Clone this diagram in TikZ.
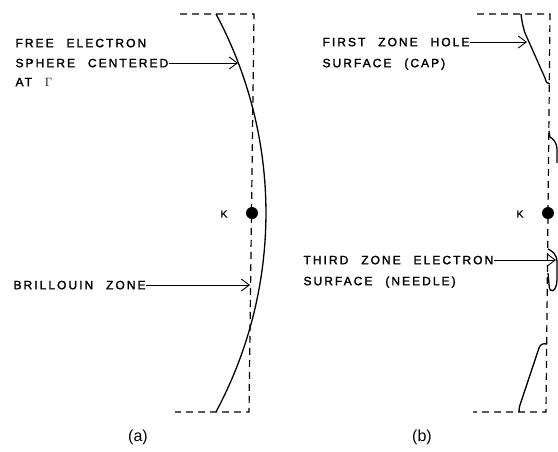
\documentclass[tikz,border=0pt]{standalone}
\usepackage{fontspec}
\setmainfont{Liberation Sans}
\newfontfamily\spacedfont[LetterSpace=17,WordSpace=2.4,FakeBold=1.8]{Liberation Sans}
\newfontfamily\plainfont[FakeBold=1.5]{Liberation Sans}
\usepackage{tikz}
\usetikzlibrary{arrows.meta}
\usetikzlibrary{positioning}
\usetikzlibrary{calc}

\begin{document}
\begin{tikzpicture}[x=1pt, y=-1pt, line width=1.1pt, lbl/.style={anchor=west, inner sep=0pt, text height=8.4pt, text depth=0pt, font=\spacedfont\fontsize{12}{13}\selectfont}, zoneline/.style={dash pattern=on 7pt off 5pt, line width=1.2pt}, fermi/.style={line width=1.3pt}, ptr/.style={-{Straight Barb[length=8pt, width=12pt]}, line width=0.9pt}, kdot/.style={circle, fill=black, inner sep=0pt, minimum size=12pt}, klbl/.style={font=\plainfont\fontsize{10}{11}\selectfont, inner sep=0pt}, caption/.style={font=\fontsize{16}{17}\selectfont, inner sep=0pt}]
        \useasboundingbox (0,0) rectangle (558,451);
        % Define the radius of the free electron sphere
        \def\radius{421}

        % Draw the zone boundaries
        \draw[zoneline] (180,14) -- (254,14) -- (249,412) -- (175,412);
        \draw[zoneline] (477,14) -- (550,14) -- (546,412) -- (473,412);

        % Draw the K points
        \node[kdot] (ka) at (252,213) {};
        \node[kdot] (kb) at (548,213) {};
        \node[klbl] (kla) at (224,214) {K};
        \node[klbl] (klb) at (520,214) {K};

        % Draw the free electron sphere in (a)
        \draw[fermi] (216,14) arc[start angle=-28.2, end angle=28.2, radius=\radius];

        % Draw the pieces of the surface in (b)
        \draw[fermi] (521,14) .. controls (522,22) and (523,27) .. (525,33) -- (545,78) .. controls (546,82) and (547,84) .. (550,84);
        \draw[fermi] (549,131) -- (550,137) .. controls (553,139) and (557,142) .. (557,150) -- (557,163);
        \draw[fermi] (548,249) .. controls (552,251) and (557,254) .. (557,262) -- (557,280) .. controls (557,291) and (549,296) .. (549,284) -- (548,273);
        \draw[fermi] (547,344) .. controls (542,343) and (540,345) .. (539,348) -- (521,402) .. controls (519,407) and (519,410) .. (519,412);

        % Labels of (a)
        \node[lbl] (free) at (15,43) {FREE ELECTRON};
        \node[lbl] (sph) at (15,63) {SPHERE CENTERED};
        \node[lbl] (gam) at (15,82) {AT $\Gamma$};
        \node[lbl] (bz) at (13,285) {BRILLOUIN ZONE};
        \coordinate (sphtip) at (238,63);
        \coordinate (bztip) at (250,285);
        \draw[ptr] (sph.east) -- (sphtip);
        \draw[ptr] (bz.east) -- (bztip);

        % Labels of (b)
        \node[lbl] (first) at (322,42) {FIRST ZONE HOLE};
        \node[lbl] (cap) at (322,63) {SURFACE (CAP)};
        \node[lbl] (third) at (303,260) {THIRD ZONE ELECTRON};
        \node[lbl] (needle) at (303,281) {SURFACE (NEEDLE)};
        \coordinate (captip) at (527,42);
        \coordinate (needletip) at (556,260);
        \draw[ptr] (first.east) -- (captip);
        \draw[ptr] (third.east) -- (needletip);

        \node[caption] (capa) at (138,437) {(a)};
        \node[caption] (capb) at (422,437) {(b)};
      \end{tikzpicture}
\end{document}
